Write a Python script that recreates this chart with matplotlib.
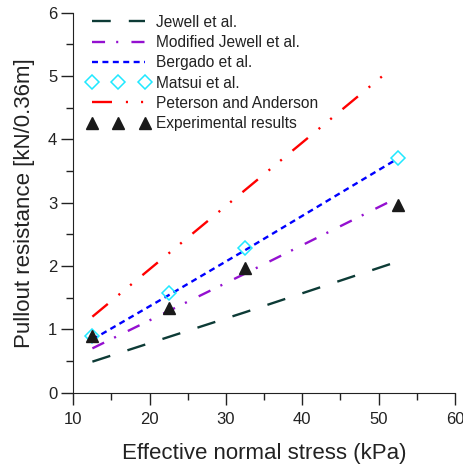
import matplotlib.pyplot as plt
from matplotlib.ticker import MultipleLocator

plt.rcParams["font.family"] = ["Liberation Sans", "DejaVu Sans"]
plt.rcParams["lines.scale_dashes"] = False

# effective normal stress (kPa)
line_x = [12.5, 22.5, 32.5, 51.5]
point_x = [12.5, 22.5, 32.5, 52.5]

jewell = [0.49, 0.88, 1.27, 2.03]
modified_jewell = [0.70, 1.29, 1.88, 3.02]
bergado_x = [12.5, 22.5, 32.5, 52.0]
bergado = [0.84, 1.54, 2.25, 3.66]
matsui = [0.90, 1.58, 2.29, 3.71]
peterson = [1.20, 2.20, 3.20, 5.10]
experimental = [0.90, 1.33, 1.97, 2.96]

TEXT = "#222222"

fig = plt.figure(figsize=(4.64, 4.70), dpi=100)
ax = fig.add_axes([0.158, 0.1645, 0.8226, 0.8085])

ax.plot(line_x, jewell, color="#0d3b36", lw=1.7, dashes=(13.5, 13),
        label="Jewell et al.")
ax.plot(line_x, modified_jewell, color="#9410d0", lw=1.7,
        dashes=(9.4, 8, 1.5, 9.5), label="Modified Jewell et al.")
ax.plot(bergado_x, bergado, color="#0000ff", lw=1.7, dashes=(4.3, 3.2),
        label="Bergado et al.")
ax.plot(point_x, matsui, ls="none", marker="D", ms=7, mfc="none",
        mec="#20e8ff", mew=1.1, label="Matsui et al.")
ax.plot(line_x, peterson, color="#ff0000", lw=1.7,
        dashes=(14.4, 10, 1.5, 9.4, 1.5, 10), label="Peterson and Anderson")
ax.plot(point_x, experimental, ls="none", marker="^", ms=8, color="#1a1a1a",
        label="Experimental results")

ax.set_xlim(10, 60)
ax.set_ylim(0, 6)
ax.xaxis.set_major_locator(MultipleLocator(10))
ax.xaxis.set_minor_locator(MultipleLocator(5))
ax.yaxis.set_major_locator(MultipleLocator(1))
ax.yaxis.set_minor_locator(MultipleLocator(0.5))
ax.tick_params(which="major", direction="out", length=8.6, width=1,
               labelsize=12, colors=TEXT)
ax.tick_params(axis="x", which="major", pad=5)
ax.tick_params(axis="y", which="major", pad=3)
ax.tick_params(which="minor", direction="out", length=5, width=1, colors=TEXT)
for side in ("top", "right"):
    ax.spines[side].set_visible(False)
for side in ("left", "bottom"):
    ax.spines[side].set_color(TEXT)

ax.set_xlabel("Effective normal stress (kPa)", fontsize=16, color=TEXT,
              labelpad=12)
ax.set_ylabel("Pullout resistance [kN/0.36m]", fontsize=16, color=TEXT,
              labelpad=9)

leg = ax.legend(loc="upper left", frameon=False, fontsize=11.2, numpoints=3,
                handlelength=4.0, handletextpad=0.4, labelspacing=0.34,
                borderaxespad=0, bbox_to_anchor=(0.02, 1.011))
for t in leg.get_texts():
    t.set_color(TEXT)

fig.savefig("out.png", dpi=100)
